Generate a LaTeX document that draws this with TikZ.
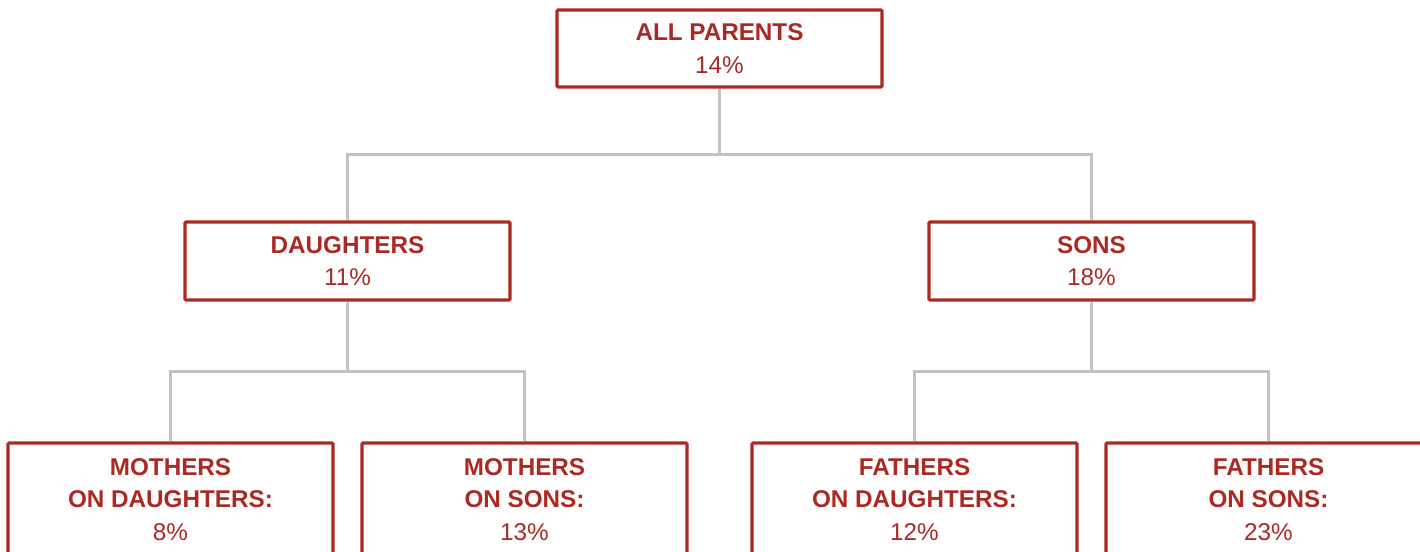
\documentclass[tikz,border=0pt]{standalone}
\usepackage{fontspec}
\setmainfont{Liberation Sans}
\usetikzlibrary{positioning,calc,trees}
\definecolor{SurveyRed}{RGB}{170,41,35}
\definecolor{LinkGray}{RGB}{194,194,194}
\tikzset{
    groupbox/.style={rectangle, draw=SurveyRed, fill=white, line width=1.8pt, minimum width=6.5cm, inner sep=0pt, align=center, text=SurveyRed, rounded corners=0.6pt, font=\fontsize{13.8}{18.4}\selectfont},
    edge from parent/.style={draw=LinkGray, line width=1.7pt}
}

\begin{document}
\begin{tikzpicture}[
        % Kich thuoc tung tang
        topbox/.style={groupbox, minimum height=1.54cm},
        midbox/.style={groupbox, minimum height=1.56cm},
        leafbox/.style={groupbox, minimum height=2.26cm},
        % Duong noi dang cay (gap khuc)
        edge from parent path={(\tikzparentnode.south) |- ($(\tikzparentnode.south)!0.5!(\tikzchildnode.north)$) -| (\tikzchildnode.north)},
        % Khoang cach cay
        level 1/.style={sibling distance=14.88cm, level distance=4.25cm},
        level 2/.style={sibling distance=7.08cm, level distance=4.77cm}
    ]

        % --- KHUNG HINH ---
        \useasboundingbox (0,0) rectangle (28.4,-11.04);
        \clip (0,0) rectangle (28.4,-11.04);

        % --- CAU TRUC CAY ---
        \node[topbox] (allparents) at (14.39,-0.97) {\textbf{ALL PARENTS}\\14\%}
            % Nhanh trai
            child { node[midbox] (daughters) {\textbf{DAUGHTERS}\\11\%}
                child { node[leafbox] (modaughters) {\textbf{MOTHERS}\\\textbf{ON DAUGHTERS:}\\8\%} }
                child { node[leafbox] (mosons) {\textbf{MOTHERS}\\\textbf{ON SONS:}\\13\%} }
            }
            % Nhanh phai
            child { node[midbox] (sons) {\textbf{SONS}\\18\%}
                child { node[leafbox] (fadaughters) {\textbf{FATHERS}\\\textbf{ON DAUGHTERS:}\\12\%} }
                child { node[leafbox] (fasons) {\textbf{FATHERS}\\\textbf{ON SONS:}\\23\%} }
            };

    \end{tikzpicture}
\end{document}
